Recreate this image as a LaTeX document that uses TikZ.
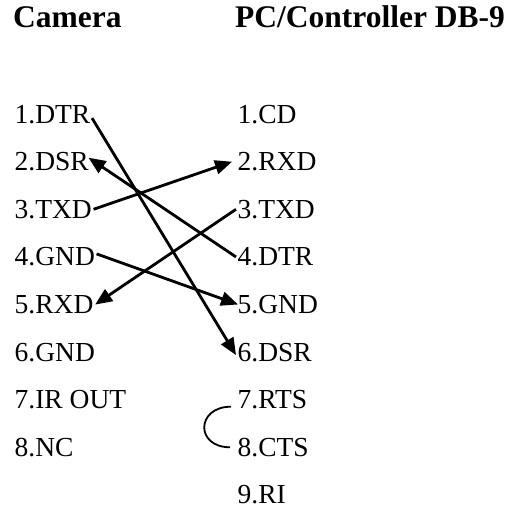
\documentclass[tikz,border=0pt]{standalone}
\usepackage{fontspec}
\setmainfont{Liberation Serif}
\usepackage{tikz}
\usetikzlibrary{positioning,arrows.meta}

\tikzset{
  pinlabel/.style={anchor=base west, inner sep=1.5pt, font=\fontsize{27.5}{30}\selectfont},
  headlabel/.style={anchor=base west, inner sep=0pt, font=\fontsize{31.5}{34}\selectfont\bfseries},
  wire/.style={line width=2.8pt, -{Triangle[length=17pt,width=14pt]}},
  loopback/.style={line width=1.8pt}
}

\begin{document}
\begin{tikzpicture}[x=1pt,y=-1pt]
    \useasboundingbox (0,0) rectangle (514,512);
    \node[headlabel] (cam) at (13,27.5) {Camera};
    \node[headlabel] (pc) at (235,27.5) {PC/Controller DB-9};
    % camera side
    \foreach \t [count=\i] in {DTR,DSR,TXD,GND,RXD,GND,IR OUT,NC}
        \node[pinlabel] (l\i) at (13,{123+(\i-1)*47.6}) {\i.\t};
    % DB-9 side
    \foreach \t [count=\i] in {CD,RXD,TXD,DTR,GND,DSR,RTS,CTS,RI}
        \node[pinlabel] (r\i) at (236,{123+(\i-1)*47.6}) {\i.\t};
    \draw[wire] ([yshift=-4pt]l1.east) -- ([yshift=-3pt]r6.west);
    \draw[wire] (r4.west) -- ([xshift=-2pt,yshift=4pt]l2.east);
    \draw[wire] (l3.east) -- ([xshift=-4pt]r2.west);
    \draw[wire] (r3.west) -- (l5.east);
    \draw[wire] ([yshift=3pt]l4.east) -- ([xshift=2pt]r5.west);
    \draw[loopback] ([xshift=-5pt,yshift=4pt]r7.south west) .. controls +(-35,0) and +(-35,0) .. ([xshift=-6pt]r8.west);
\end{tikzpicture}
\end{document}
